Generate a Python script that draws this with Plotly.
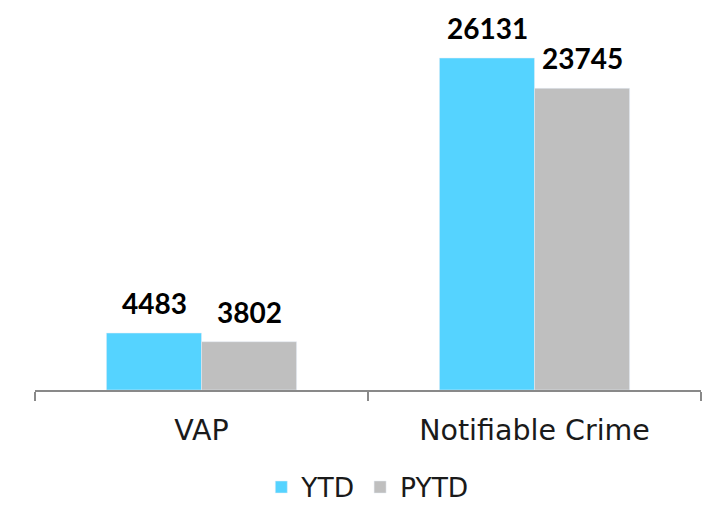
import plotly.graph_objects as go

categories = ["VAP", "Notifiable Crime"]
ytd = [4483, 26131]
pytd = [3802, 23745]

label_font = dict(family="Lato", size=28, color="#000000", weight="bold")

fig = go.Figure()
fig.add_trace(go.Bar(x=categories, y=ytd, name="YTD", marker_color="#55D3FF"))
fig.add_trace(go.Bar(x=categories, y=pytd, name="PYTD", marker_color="#BFBFBF"))

bar_px = 47.5
for series, shift in ((ytd, -bar_px), (pytd, bar_px)):
    for cat, val in zip(categories, series):
        fig.add_annotation(x=cat, y=val, text=str(val), showarrow=False,
                           xanchor="center", yanchor="bottom", xshift=shift, yshift=11,
                           font=label_font)

fig.update_layout(
    width=716, height=506,
    margin=dict(l=35, r=15, t=20, b=116, autoexpand=False),
    paper_bgcolor="white", plot_bgcolor="white",
    barmode="group", bargap=0.429, bargroupgap=0,
    font=dict(family="DejaVu Sans", size=27, color="#1a1a1a"),
    legend=dict(orientation="h", x=0.513, xanchor="center", y=0.037, yanchor="middle",
                xref="container", yref="container",
                font=dict(size=26.5, color="#1a1a1a"), itemwidth=30, traceorder="normal"),
)
fig.update_xaxes(showline=True, linecolor="#898989", linewidth=1.5,
                 ticks="outside", tickson="boundaries", ticklen=9, tickcolor="#898989",
                 tickwidth=1.5, tickfont=dict(size=28.5, color="#1a1a1a"), showgrid=False,
                 ticklabelstandoff=14, automargin=False)
fig.update_yaxes(range=[0, 29122], visible=False, showgrid=False, automargin=False)

fig.write_html("out.html", post_script="document.body.style.margin='0';",
               config={"displayModeBar": False})
